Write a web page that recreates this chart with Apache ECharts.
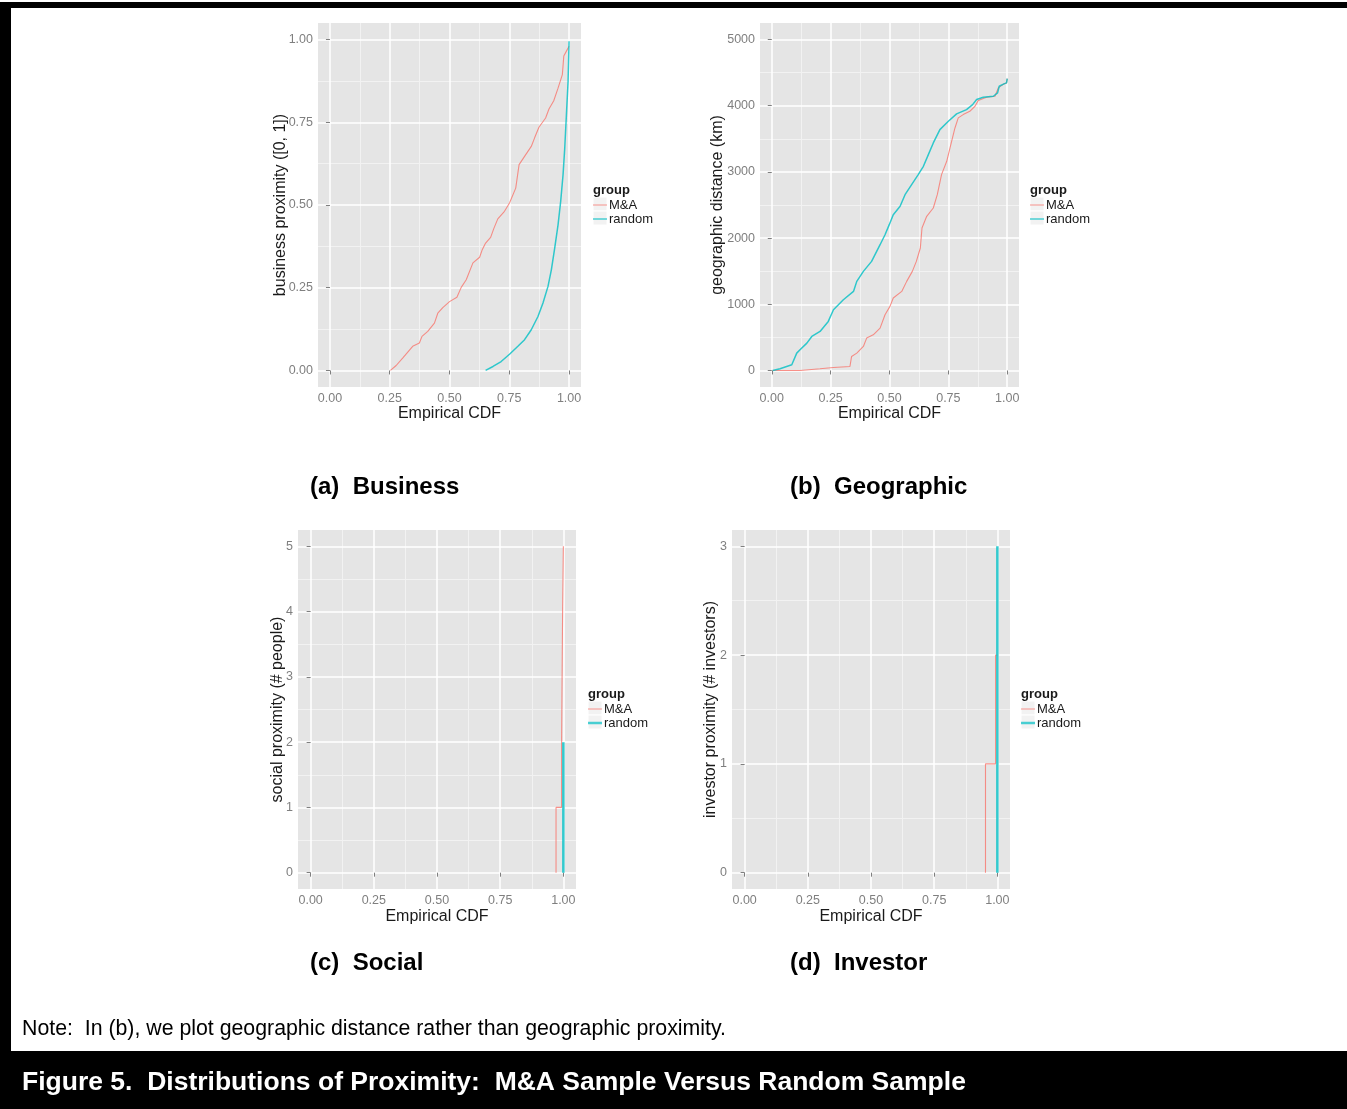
<!DOCTYPE html>
<html><head><meta charset="utf-8">
<script src="https://cdn.jsdelivr.net/npm/echarts@6/dist/echarts.min.js"></script>
<style>html,body{margin:0;padding:0;background:#fff}#c{width:1347px;height:1109px}</style>
</head><body><div id="c"></div>
<script>
// ---- data ----
const cdfTicks = [0, 0.25, 0.5, 0.75, 1];
const cdfMinor = [0.125, 0.375, 0.625, 0.875];
const bizTicks = [0, 0.25, 0.5, 0.75, 1];
const bizMinor = [0.125, 0.375, 0.625, 0.875];
const geoTicks = [0, 1000, 2000, 3000, 4000, 5000];
const geoMinor = [500, 1500, 2500, 3500, 4500];
const socTicks = [0, 1, 2, 3, 4, 5];
const socMinor = [0.5, 1.5, 2.5, 3.5, 4.5];
const invTicks = [0, 1, 2, 3];
const invMinor = [0.5, 1.5, 2.5];
const groupNames = ['M&A', 'random'];
const panelTitles = ['(a)  Business', '(b)  Geographic', '(c)  Social', '(d)  Investor'];
const yTitles = ['business proximity ([0, 1])', 'geographic distance (km)', 'social proximity (# people)', 'investor proximity (# investors)'];

// [empirical CDF, value]
const bizMA = [[0.253,0],[0.277,0.015],[0.304,0.037],[0.346,0.073],[0.374,0.083],[0.385,0.103],[0.409,0.118],[0.437,0.143],[0.451,0.173],[0.472,0.19],[0.5,0.208],[0.531,0.221],[0.549,0.251],[0.57,0.274],[0.598,0.325],[0.626,0.342],[0.637,0.365],[0.651,0.385],[0.672,0.402],[0.686,0.43],[0.702,0.458],[0.73,0.481],[0.751,0.506],[0.777,0.551],[0.791,0.622],[0.814,0.647],[0.842,0.677],[0.856,0.703],[0.874,0.735],[0.902,0.763],[0.916,0.79],[0.936,0.815],[0.954,0.853],[0.972,0.894],[0.978,0.95],[0.989,0.965],[1.0,0.98]];
const bizRandom = [[0.651,0],[0.682,0.012],[0.716,0.027],[0.751,0.049],[0.786,0.073],[0.814,0.093],[0.842,0.123],[0.87,0.163],[0.891,0.204],[0.912,0.254],[0.926,0.304],[0.94,0.37],[0.954,0.44],[0.965,0.511],[0.975,0.592],[0.982,0.672],[0.989,0.773],[0.996,0.874],[1.0,0.995]];
const geoMA = [[0.004,0],[0.12,0],[0.205,25],[0.262,45],[0.332,60],[0.339,212],[0.361,262],[0.389,363],[0.403,489],[0.431,539],[0.46,640],[0.481,842],[0.502,968],[0.516,1094],[0.552,1194],[0.573,1346],[0.597,1497],[0.614,1648],[0.631,1850],[0.638,2152],[0.658,2329],[0.686,2455],[0.703,2656],[0.721,2959],[0.743,3160],[0.757,3362],[0.778,3664],[0.792,3816],[0.813,3866],[0.841,3916],[0.863,3992],[0.877,4078],[0.912,4128],[0.948,4143],[0.962,4269],[0.966,4294],[0.986,4330],[0.997,4345],[1.0,4410]];
const geoRandom = [[0.004,0],[0.035,25],[0.085,86],[0.106,262],[0.12,312],[0.149,413],[0.17,514],[0.205,590],[0.24,741],[0.262,917],[0.304,1069],[0.347,1194],[0.361,1346],[0.389,1497],[0.424,1648],[0.46,1900],[0.481,2051],[0.499,2203],[0.516,2354],[0.545,2480],[0.566,2656],[0.594,2808],[0.622,2959],[0.644,3085],[0.665,3261],[0.686,3438],[0.714,3639],[0.75,3765],[0.785,3876],[0.827,3942],[0.853,4017],[0.87,4093],[0.898,4128],[0.941,4143],[0.959,4194],[0.966,4294],[0.986,4330],[0.997,4345],[1.0,4410]];
const socMA = [[0.971,0],[0.971,1],[0.993,1],[0.993,2],[0.997,2],[0.997,4],[1.0,4],[1.0,5]];
const socRandom = [[1.0,0],[1.0,1],[1.0,2]];
const invMA = [[0.953,0],[0.953,1],[0.993,1],[0.993,2],[1.0,2]];
const invRandom = [[1.0,0],[1.0,1],[1.0,2],[1.0,3]];

// ---- layout / style ----
const FONT = '"Liberation Sans", Arial, sans-serif';
const RED = '#F8766D', CYAN = '#00BFC4';
const grids = [
  {left: 318, top: 23, width: 263, height: 364},
  {left: 760, top: 23, width: 259, height: 364},
  {left: 298, top: 530, width: 278, height: 359},
  {left: 732, top: 530, width: 278, height: 359}
];
const yRanges = [[-0.05, 1.05], [-250, 5250], [-0.25, 5.25], [-0.15, 3.15]];
const yMajor = [bizTicks, geoTicks, socTicks, invTicks];
const yMinorArr = [bizMinor, geoMinor, socMinor, invMinor];
const yFmt = [v => v.toFixed(2), v => String(v), v => String(v), v => String(v)];
const yGaps = [29, 34, 12, 13];
const xGaps = [19, 19, 20, 20];
const seriesData = [[bizMA, bizRandom], [geoMA, geoRandom], [socMA, socRandom], [invMA, invRandom]];
const randWidth = [1.5, 1.5, 2.5, 2.5];
const legendPos = [[593, 198], [1030, 198], [588, 702], [1021, 702]];

const xAxes = [], yAxes = [], series = [], legends = [], graphics = [];
grids.forEach((g, i) => {
  g.show = true; g.backgroundColor = '#E5E5E5'; g.borderWidth = 0; g.z = 0;
  xAxes.push({
    type: 'value', gridIndex: i, position: 'bottom', min: -0.05, max: 1.05, z: 2,
    name: 'Empirical CDF', nameLocation: 'middle', nameGap: xGaps[i], nameMoveOverlap: false,
    nameTextStyle: {fontFamily: FONT, fontSize: 16, color: '#1a1a1a'},
    axisLine: {show: false},
    axisTick: {show: true, length: 4, customValues: cdfTicks, lineStyle: {color: '#7F7F7F'}},
    axisLabel: {customValues: cdfTicks, formatter: v => v.toFixed(2), margin: 5, fontFamily: FONT, fontSize: 12.5, color: '#7F7F7F'},
    splitLine: {show: true, lineStyle: {color: '#FFFFFF', width: 1.5}}
  });
  xAxes.push({
    type: 'value', gridIndex: i, position: 'top', min: -0.05, max: 1.05, z: 1,
    axisLine: {show: false}, axisLabel: {show: false},
    axisTick: {show: false, customValues: cdfMinor},
    splitLine: {show: true, lineStyle: {color: '#F2F2F2', width: 1}}
  });
  yAxes.push({
    type: 'value', gridIndex: i, position: 'left', min: yRanges[i][0], max: yRanges[i][1], z: 2,
    name: yTitles[i], nameLocation: 'middle', nameGap: yGaps[i], nameMoveOverlap: false,
    nameTextStyle: {fontFamily: FONT, fontSize: 16, color: '#1a1a1a'},
    axisLine: {show: false},
    axisTick: {show: true, length: 4, customValues: yMajor[i], lineStyle: {color: '#7F7F7F'}},
    axisLabel: {customValues: yMajor[i], formatter: yFmt[i], margin: 5, fontFamily: FONT, fontSize: 12.5, color: '#7F7F7F'},
    splitLine: {show: true, lineStyle: {color: '#FFFFFF', width: 1.5}}
  });
  yAxes.push({
    type: 'value', gridIndex: i, position: 'right', min: yRanges[i][0], max: yRanges[i][1], z: 1,
    axisLine: {show: false}, axisLabel: {show: false},
    axisTick: {show: false, customValues: yMinorArr[i]},
    splitLine: {show: true, lineStyle: {color: '#F2F2F2', width: 1}}
  });
  const suffix = i < 2 ? '' : ' ';
  const nm = groupNames.map(n => n + suffix);
  const widths = [1.1, randWidth[i]];
  const colors = [RED, CYAN];
  nm.forEach((n, k) => {
    series.push({
      name: n, type: 'line', xAxisIndex: 2 * i, yAxisIndex: 2 * i, data: seriesData[i][k],
      symbol: 'none', z: 5 + k, silent: true, color: colors[k],
      lineStyle: {color: colors[k], width: widths[k], opacity: 0.8}
    });
  });
  const [lx, ly] = legendPos[i];
  graphics.push({type: 'rect', shape: {x: lx, y: ly - 1, width: 14, height: 14}, style: {fill: '#F2F2F2', stroke: '#FFFFFF', lineWidth: 1}, z: 0, silent: true});
  graphics.push({type: 'rect', shape: {x: lx, y: ly + 13, width: 14, height: 14}, style: {fill: '#F2F2F2', stroke: '#FFFFFF', lineWidth: 1}, z: 0, silent: true});
  graphics.push({type: 'text', style: {x: lx, y: ly - 8, text: 'group', font: 'bold 13px ' + FONT, fill: '#1a1a1a', verticalAlign: 'middle'}, silent: true});
  nm.forEach((n, k) => {
    legends.push({
      data: [n], orient: 'vertical', left: lx, top: ly + k * 14, padding: 0, itemGap: 0,
      icon: 'rect', itemWidth: 14, itemHeight: widths[k], selectedMode: false, z: 10,
      itemStyle: {opacity: 0.7},
      textStyle: {fontFamily: FONT, fontSize: 13, lineHeight: 14, color: '#1a1a1a', padding: [0, 0, 0, -3]}
    });
  });
});

const subPos = [[310, 487], [790, 487], [310, 963], [790, 963]];
panelTitles.forEach((t, i) => {
  graphics.push({type: 'text', style: {x: subPos[i][0], y: subPos[i][1], text: t, font: 'bold 24px ' + FONT, fill: '#000', verticalAlign: 'middle'}, silent: true});
});
graphics.push({type: 'rect', shape: {x: 0, y: 2, width: 1347, height: 6}, style: {fill: '#000'}, silent: true});
graphics.push({type: 'rect', shape: {x: 0, y: 2, width: 11, height: 1107}, style: {fill: '#000'}, silent: true});
graphics.push({type: 'rect', shape: {x: 0, y: 1051, width: 1347, height: 58}, style: {fill: '#000'}, silent: true});
graphics.push({type: 'text', style: {x: 22, y: 1029, text: 'Note:  In (b), we plot geographic distance rather than geographic proximity.', font: '21.3px ' + FONT, fill: '#000', verticalAlign: 'middle'}, silent: true});
graphics.push({type: 'text', style: {x: 22, y: 1083, text: 'Figure 5.  Distributions of Proximity:  M&A Sample Versus Random Sample', font: 'bold 26.5px ' + FONT, fill: '#fff', verticalAlign: 'middle'}, z: 20, silent: true});

const chart = echarts.init(document.getElementById('c'), null, {renderer: 'canvas'});
chart.setOption({
  animation: false,
  backgroundColor: '#FFFFFF',
  grid: grids,
  xAxis: xAxes,
  yAxis: yAxes,
  legend: legends,
  series: series,
  graphic: graphics
});
</script></body></html>
